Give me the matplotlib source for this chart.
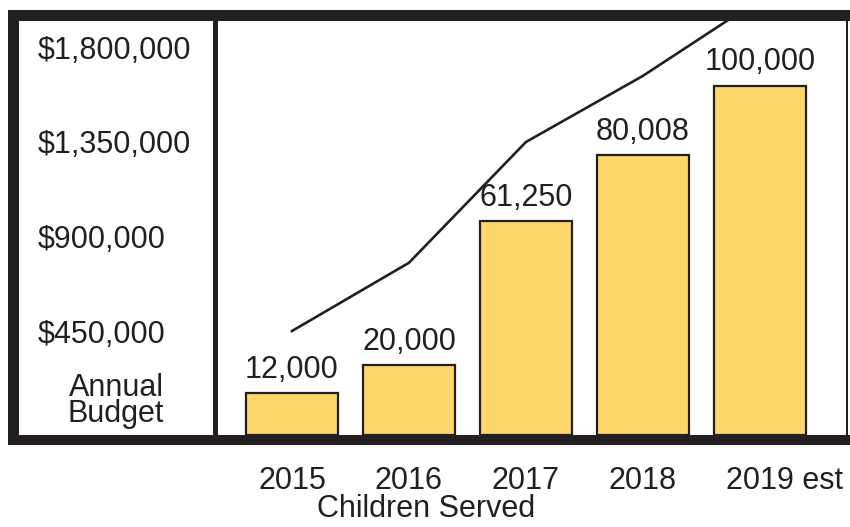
import matplotlib
matplotlib.use("Agg")
import matplotlib.pyplot as plt
from matplotlib.patches import Rectangle

plt.rcParams['font.family'] = ['Liberation Sans', 'DejaVu Sans']

# ---- data ----
years = ["2015", "2016", "2017", "2018", "2019 est"]
children_served = [12000, 20000, 61250, 80008, 100000]
children_labels = ["12,000", "20,000", "61,250", "80,008", "100,000"]
annual_budget = [450000, 775000, 1350000, 1665000, 2030000]
budget_ticks = [450000, 900000, 1350000, 1800000]
budget_tick_labels = ["$450,000", "$900,000", "$1,350,000", "$1,800,000"]

INK = "#231f20"
BAR = "#fed76b"
W, H = 850, 527

fig = plt.figure(figsize=(W / 100, H / 100), dpi=100)


def fx(px):
    return px / W


def fy(py):
    return 1 - py / H


# plot area (pixels): x 218..846, y 21..435
ax = fig.add_axes([fx(218), fy(435), fx(846) - fx(218), fy(21) - fy(435)])
xs = list(range(len(years)))
ax.bar(xs, children_served, width=0.786, color=BAR, edgecolor=INK, linewidth=1.6, zorder=2)
for x, v, lab in zip(xs, children_served, children_labels):
    ax.annotate(lab, (x, v), xytext=(0, 6), textcoords="offset points",
                ha="center", va="bottom", fontsize=22, color=INK)
ax.set_xlim(-0.632, 4.735)
ax.set_ylim(0, 118500)
ax.set_yticks([])
ax.set_xticks(xs[:-1], years[:-1])
ax.tick_params(axis="x", length=0, pad=22, labelsize=22, labelcolor=INK)
# last year label: the number is centred on its bar, the suffix hangs to the right
ax.annotate(years[-1], xy=(xs[-1], 0), xycoords=("data", "axes fraction"),
            xytext=(-24.5, -22), textcoords="offset points",
            ha="left", va="top", fontsize=22, color=INK)
for s in ax.spines.values():
    s.set_visible(False)
ax.patch.set_alpha(0)

ax2 = ax.twinx()
ax2.plot(xs, annual_budget, color=INK, linewidth=1.9, zorder=3)
ax2.set_ylim(-45000, 1926000)
ax2.set_yticks(budget_ticks, budget_tick_labels)
ax2.yaxis.set_ticks_position("left")
ax2.tick_params(axis="y", length=0, pad=129.6, labelsize=22, labelcolor=INK)
for lbl in ax2.get_yticklabels():
    lbl.set_ha("left")
for s in ax2.spines.values():
    s.set_visible(False)

fig.text(fx(116), fy(401), "Annual\nBudget", ha="center", va="center",
         fontsize=22, color=INK, linespacing=0.82)
fig.text(fx(426), fy(509), "Children Served", ha="center", va="center",
         fontsize=22, color=INK)


def rect(x0, y0, x1, y1, color=INK):
    fig.add_artist(Rectangle((fx(x0), fy(y1)), fx(x1) - fx(x0), fy(y0) - fy(y1),
                             transform=fig.transFigure, facecolor=color,
                             edgecolor="none", zorder=5))


rect(8, 10, 850, 21)      # top border
rect(8, 435, 850, 445)    # bottom border
rect(8, 10, 19, 445)      # left border
rect(213, 10, 218, 445)   # divider
rect(846, 10, 848, 445)   # right thin border

fig.savefig("out.png", dpi=100)
